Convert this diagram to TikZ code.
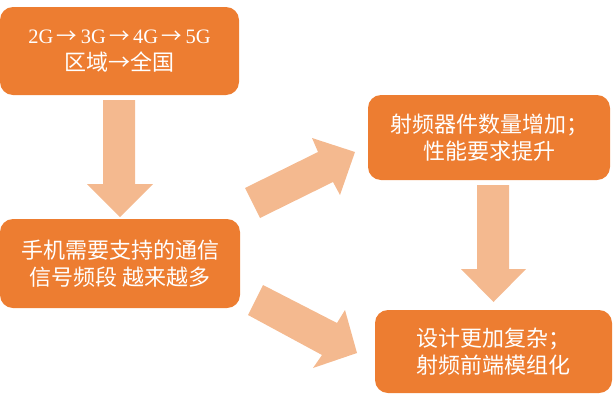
\documentclass[tikz,border=0pt]{standalone}
\usepackage{fontspec}
\setmainfont{Liberation Serif}
\newfontfamily\cjk{Noto Sans CJK SC}
\definecolor{boxor}{HTML}{ED7D31}
\definecolor{arrlt}{HTML}{F4B98F}
\newcommand{\rarr}{\,{\cjk →}\,}
\begin{document}
\begin{tikzpicture}[x=1pt,y=-1pt,
  obox/.style={fill=boxor, draw=none, rounded corners=13pt, text=white,
    align=center, inner sep=0pt, font=\cjk\fontsize{22}{26.5}\selectfont},
  barrow/.style={fill=arrlt, draw=none}]
\useasboundingbox (0,0) rectangle (613,394);
\node[obox, minimum width=239pt, minimum height=88pt] (b1) at (119.5,51)
  {{\rmfamily\fontsize{20.5}{26.5}\selectfont 2G\rarr 3G\rarr 4G\rarr 5G}\\区域→全国};
\node[obox, minimum width=240pt, minimum height=89pt] (b2) at (120,263.5)
  {手机需要支持的通信\\信号频段 越来越多};
\node[obox, minimum width=242pt, minimum height=85pt] (b3) at (489,137.5)
  {射频器件数量增加；\\性能要求提升};
\node[obox, minimum width=237pt, minimum height=83pt] (b4) at (493.5,351.5)
  {设计更加复杂；\\射频前端模组化};
% arrow b1 -> b2
\fill[barrow] (103,100) -- (135,100) -- (135,184) -- (153,184) -- (120,217)
  -- (87,184) -- (103,184) -- cycle;
% arrow b3 -> b4
\fill[barrow] (477,185) -- (509,185) -- (509,269) -- (526,269) -- (493.5,302)
  -- (461,269) -- (477,269) -- cycle;
% arrow b2 -> b3
\fill[barrow] (245,188) -- (318,152) -- (312,138) -- (355,152) -- (340,195)
  -- (333,182) -- (260,218) -- cycle;
% arrow b2 -> b4
\fill[barrow] (263,285) -- (337,323) -- (345,310) -- (357,353) -- (313,368)
  -- (322,355) -- (248,315) -- cycle;
\end{tikzpicture}
\end{document}
